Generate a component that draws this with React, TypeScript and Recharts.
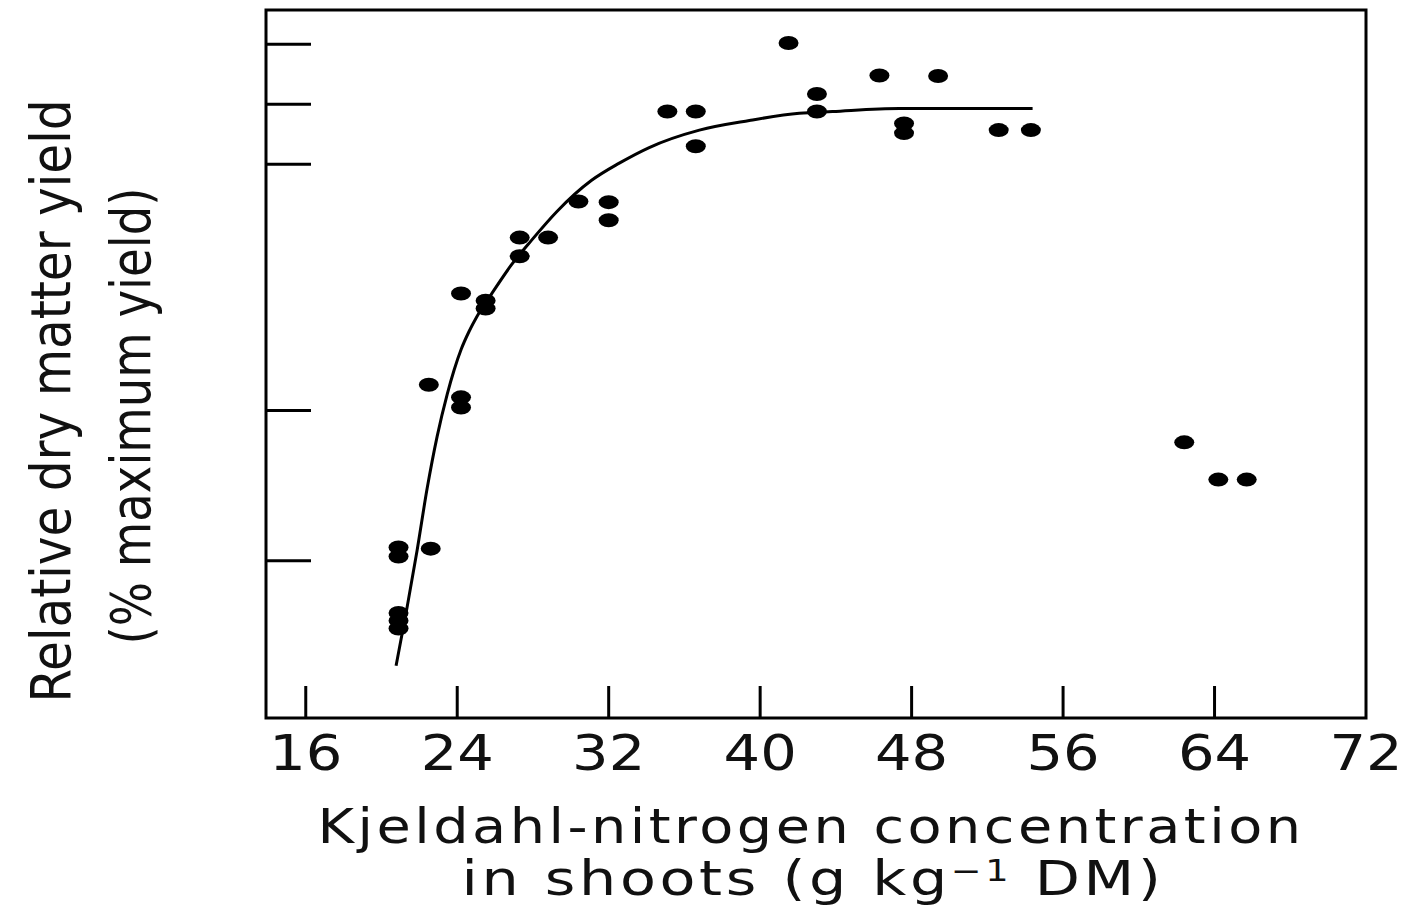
import {
  ComposedChart,
  Scatter,
  Line,
  XAxis,
  YAxis,
  ReferenceArea
} from "recharts";

// measured points: N concentration (g/kg) and relative yield (%)
const nitrogen = [
  20.9, 20.9, 20.9, 20.9, 20.9, 22.6, 22.5, 24.2, 24.2, 24.2, 25.5, 25.5,
  27.3, 27.3, 28.8, 30.4, 32.0, 32.0, 35.1, 36.6, 36.6, 41.5, 43.0, 43.0,
  46.3, 49.4, 47.6, 47.6, 52.6, 54.3, 62.4, 64.2, 65.7
];
const relYield = [
  15.3, 14.0, 12.7, 26.2, 24.7, 26.0, 53.3, 51.2, 49.5, 68.5, 67.3, 66.0,
  74.7, 77.8, 77.8, 83.8, 83.7, 80.7, 98.8, 98.8, 93.0, 110.2, 101.7, 98.8,
  104.8, 104.7, 96.8, 95.2, 95.7, 95.7, 43.7, 37.5, 37.5
];

// fitted response curve
const curveN = [
  20.77, 21.35, 21.88, 22.41, 22.94, 23.47, 23.84, 24.21, 24.63, 25.05,
  25.79, 26.85, 27.91, 29.28, 31.08, 32.56, 34.14, 36.79, 39.43, 42.07,
  43.82, 47.36, 54.39
];
const curveYield = [
  6.5, 16.2, 25.7, 36.0, 44.7, 51.7, 55.8, 59.2, 62.2, 64.7,
  68.3, 73.2, 77.3, 82.2, 87.3, 90.2, 92.8, 95.7, 97.3, 98.5,
  98.8, 99.3, 99.3
];

const xTickMarks = [16, 24, 32, 40, 48, 56, 64];
const xTickLabels = [16, 24, 32, 40, 48, 56, 64, 72];
const yTickMarks = [110, 100, 90, 49, 24];

const X_DOMAIN: [number, number] = [13.9, 72];
const Y_DOMAIN: [number, number] = [-2.2, 115.7];

const FONT = "DejaVu Sans";

const points = nitrogen.map((x, i) => ({ x, y: relYield[i] }));
const curve = curveN.map((x, i) => ({ x, y: curveYield[i] }));

const Dot = (props: any) => (
  <ellipse cx={props.cx} cy={props.cy} rx={10} ry={7} fill="#000" />
);

const TickLabel = (props: any) => {
  const { x, y, payload } = props;
  return (
    <text
      transform={`translate(${x},${y + 52}) scale(1.15,1)`}
      textAnchor="middle"
      fontFamily={FONT}
      fontSize={50}
      fill="#111"
    >
      {payload.value}
    </text>
  );
};

export default function App() {
  return (
    <div style={{ position: "absolute", left: 0, top: 0, width: 1406, height: 905, background: "#fff" }}>
      <ComposedChart
        width={1406}
        height={905}
        margin={{ top: 10, right: 40, bottom: 186, left: 266 }}
      >
        <XAxis
          xAxisId="marks"
          type="number"
          dataKey="x"
          domain={X_DOMAIN}
          allowDataOverflow
          ticks={xTickMarks}
          interval={0}
          height={1}
          mirror
          axisLine={false}
          tickSize={32}
          tickFormatter={() => ""}
          tickLine={{ stroke: "#000", strokeWidth: 3 }}
        />
        <XAxis
          xAxisId="labels"
          type="number"
          dataKey="x"
          domain={X_DOMAIN}
          allowDataOverflow
          ticks={xTickLabels}
          interval={0}
          height={1}
          axisLine={false}
          tickLine={false}
          tickSize={0}
          tickMargin={0}
          tick={<TickLabel />}
        />
        <YAxis
          type="number"
          domain={Y_DOMAIN}
          allowDataOverflow
          ticks={yTickMarks}
          interval={0}
          width={1}
          mirror
          axisLine={false}
          tickSize={45}
          tickFormatter={() => ""}
          tickLine={{ stroke: "#000", strokeWidth: 3 }}
        />
        <ReferenceArea
          xAxisId="marks"
          x1={X_DOMAIN[0]}
          x2={X_DOMAIN[1]}
          y1={Y_DOMAIN[0]}
          y2={Y_DOMAIN[1]}
          fill="none"
          stroke="#000"
          strokeWidth={3}
          ifOverflow="visible"
        />
        <Line
          xAxisId="marks"
          data={curve}
          dataKey="y"
          type="monotone"
          stroke="#000"
          strokeWidth={3}
          dot={false}
          activeDot={false}
          isAnimationActive={false}
        />
        <Scatter
          xAxisId="marks"
          data={points}
          dataKey="y"
          shape={<Dot />}
          isAnimationActive={false}
        />
      </ComposedChart>
      <svg
        width={1406}
        height={905}
        style={{ position: "absolute", left: 0, top: 0, pointerEvents: "none" }}
      >
        <g fontFamily={FONT} fill="#111">
          <text
            transform="translate(70,401) rotate(-90)"
            textAnchor="middle"
            fontSize={56}
            textLength={603}
            lengthAdjust="spacingAndGlyphs"
          >
            Relative dry matter yield
          </text>
          <text
            transform="translate(150,416) rotate(-90)"
            textAnchor="middle"
            fontSize={56}
            textLength={457}
            lengthAdjust="spacingAndGlyphs"
          >
            (% maximum yield)
          </text>
          <text
            x={811}
            y={843}
            textAnchor="middle"
            fontSize={48}
            letterSpacing={3}
            textLength={987}
            lengthAdjust="spacingAndGlyphs"
          >
            Kjeldahl-nitrogen concentration
          </text>
          <text
            x={813}
            y={895}
            textAnchor="middle"
            fontSize={48}
            letterSpacing={3}
            textLength={703}
            lengthAdjust="spacingAndGlyphs"
          >
            in shoots (g kg
            <tspan dy={-14} fontSize={30}>−1</tspan>
            <tspan dy={14}> DM)</tspan>
          </text>
        </g>
      </svg>
    </div>
  );
}
